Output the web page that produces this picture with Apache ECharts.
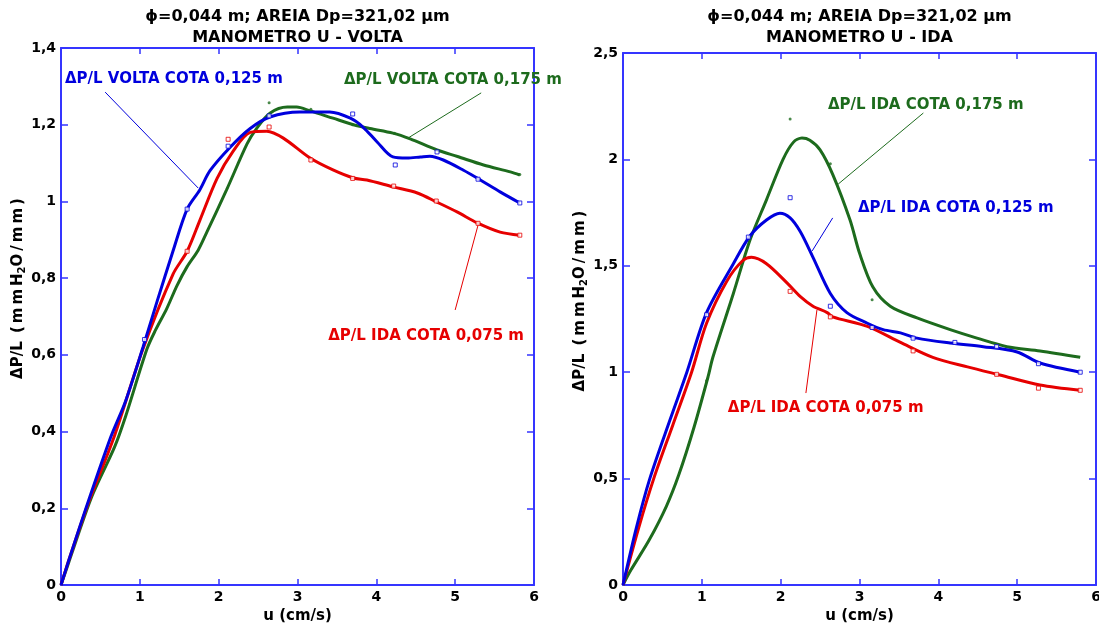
<!DOCTYPE html>
<html>
<head>
<meta charset="utf-8">
<script src="https://cdn.jsdelivr.net/npm/echarts@6/dist/echarts.min.js"></script>
<style>
html,body{margin:0;padding:0;background:#fff;}
#c{width:1099px;height:623px;}
</style>
</head>
<body>
<div id="c"></div>
<script>
// ---------- DATA ----------
const titleLine1 = 'ϕ=0,044 m; AREIA Dp=321,02 μm';
const titleLeft2 = 'MANOMETRO U - VOLTA';
const titleRight2 = 'MANOMETRO U - IDA';
const xAxisName = 'u (cm/s)';

// Left chart (VOLTA)
const lBlueX = [0,0.1,0.3,0.63,0.82,1.04,1.22,1.42,1.6,1.76,1.89,2.14,2.4,2.65,3.03,3.41,3.67,3.83,4.01,4.21,4.39,4.56,4.68,4.85,5.1,5.32,5.57,5.82];
const lBlueY = [0,0.065,0.19,0.385,0.48,0.62,0.74,0.87,0.98,1.03,1.08,1.14,1.19,1.22,1.233,1.233,1.217,1.194,1.155,1.116,1.113,1.116,1.118,1.108,1.082,1.056,1.025,0.996];
const lRedX = [0,0.1,0.34,0.68,1.03,1.42,1.6,1.76,1.98,2.18,2.4,2.61,2.82,3.16,3.45,3.71,3.88,4.21,4.52,4.77,5.03,5.28,5.57,5.82];
const lRedY = [0,0.065,0.21,0.39,0.61,0.81,0.87,0.95,1.06,1.13,1.18,1.183,1.165,1.113,1.082,1.061,1.056,1.038,1.022,0.998,0.972,0.944,0.92,0.912];
const lGreenX = [0,0.1,0.39,0.68,0.82,1.09,1.2,1.34,1.47,1.6,1.74,1.85,2.1,2.36,2.48,2.65,2.87,2.99,3.16,3.45,3.71,3.92,4.21,4.43,4.77,5.03,5.36,5.7,5.82];
const lGreenY = [0,0.06,0.23,0.36,0.44,0.615,0.665,0.72,0.78,0.83,0.873,0.92,1.03,1.15,1.19,1.23,1.246,1.246,1.236,1.217,1.2,1.19,1.178,1.163,1.134,1.117,1.095,1.077,1.069];
const lBlueMkX = [1.06,1.6,2.12,2.64,3.7,4.24,4.77,5.29,5.82];
const lBlueMkY = [0.64,0.98,1.144,1.223,1.228,1.095,1.129,1.058,0.996];
const lRedMkX = [1.6,2.12,2.64,3.17,3.7,4.22,4.76,5.29,5.82];
const lRedMkY = [0.87,1.162,1.194,1.108,1.06,1.04,1.001,0.943,0.912];
const lGreenMkX = [2.64,3.17,3.7,4.23,5.82];
const lGreenMkY = [1.257,1.24,1.2,1.178,1.07];

// Right chart (IDA)
const rBlueX = [0,0.17,0.34,0.6,0.81,1.06,1.4,1.61,1.82,1.99,2.12,2.25,2.41,2.63,2.84,3.1,3.3,3.52,3.73,4.15,4.57,5.0,5.29,5.8];
const rBlueY = [0,0.27,0.5,0.78,1.0,1.28,1.51,1.64,1.715,1.747,1.725,1.66,1.54,1.37,1.28,1.23,1.2,1.185,1.16,1.137,1.12,1.095,1.043,1.0];
const rRedX = [0,0.2,0.39,0.63,0.87,1.06,1.32,1.52,1.63,1.82,2.08,2.25,2.41,2.59,2.66,3.1,3.52,3.93,4.37,4.78,5.29,5.8];
const rRedY = [0,0.27,0.5,0.75,1.0,1.23,1.43,1.525,1.54,1.51,1.42,1.355,1.31,1.28,1.26,1.215,1.14,1.07,1.025,0.987,0.94,0.915];
const rGreenX = [0,0.1,0.33,0.55,0.71,0.9,1.08,1.14,1.4,1.61,1.82,2.03,2.16,2.27,2.37,2.5,2.66,2.88,3.0,3.17,3.39,3.73,4.15,4.49,4.87,5.29,5.8];
const rGreenY = [0,0.07,0.21,0.37,0.52,0.74,0.98,1.07,1.37,1.62,1.81,2.0,2.08,2.1,2.09,2.045,1.93,1.715,1.56,1.4,1.31,1.255,1.2,1.16,1.12,1.1,1.07];
const rBlueMkX = [1.06,1.59,2.12,2.63,3.16,3.68,4.21,4.74,5.27,5.8];
const rBlueMkY = [1.27,1.635,1.82,1.31,1.21,1.16,1.14,1.12,1.04,1.0];
const rRedMkX = [2.12,2.63,3.68,4.74,5.27,5.8];
const rRedMkY = [1.38,1.26,1.1,0.99,0.925,0.915];
const rGreenMkX = [1.06,2.12,2.63,3.16];
const rGreenMkY = [0.96,2.19,1.98,1.34];

// Annotation texts with anchor points in data units
const annTexts = ['ΔP/L VOLTA COTA 0,125 m','ΔP/L VOLTA COTA 0,175 m','ΔP/L IDA COTA 0,075 m',
                  'ΔP/L IDA COTA 0,175 m','ΔP/L IDA COTA 0,125 m','ΔP/L IDA COTA 0,075 m'];
const annGrid = [0,0,0,1,1,1];
const annTextAt = [[0.05,1.319],[3.59,1.316],[3.39,0.649],[2.60,2.256],[2.98,1.772],[1.33,0.832]];
const annLineFrom = [[0.56,1.285],[5.33,1.283],[5.0,0.717],[3.81,2.218],[2.66,1.725],[2.32,0.902]];
const annLineTo = [[1.74,1.035],[4.40,1.165],[5.29,0.938],[2.73,1.884],[2.40,1.57],[2.46,1.292]];

// ---------- STYLE ----------
const BLUE = '#0000dd', RED = '#e60000', GREEN = '#1d6b1d', AXIS = '#3535ff';
const annColors = [BLUE, GREEN, RED, GREEN, BLUE, RED];
const FONT = '"DejaVu Sans", "Liberation Sans", sans-serif';
const TS = '\u2009';
const zip = (a,b) => a.map((v,i)=>[v,b[i]]);
const fmt = v => String(Math.round(v*100)/100).replace('.', ',');
const yName = '{a|ΔP/L' + TS + ' (' + TS + 'm' + TS + 'm' + TS + 'H}{s|2}{a|O' + TS + '/' + TS + 'm' + TS + 'm' + TS + ')}';

const chart = echarts.init(document.getElementById('c'), null, {renderer:'canvas'});

function xAxes(grid){
  return [
    {type:'value', gridIndex:grid, min:0, max:6, interval:1, position:'bottom',
     axisLine:{onZero:false, lineStyle:{color:AXIS,width:2}},
     axisTick:{inside:true,length:6,lineStyle:{color:AXIS,width:1.5}},
     axisLabel:{color:'#000',fontWeight:'bold',fontSize:14,fontFamily:FONT,margin:5,formatter:fmt},
     splitLine:{show:false},
     name:xAxisName, nameLocation:'middle', nameGap:18,
     nameTextStyle:{color:'#000',fontWeight:'bold',fontSize:15,fontFamily:FONT}},
    {type:'value', gridIndex:grid, min:0, max:6, interval:1, position:'top',
     axisLine:{onZero:false, lineStyle:{color:AXIS,width:2}},
     axisTick:{inside:true,length:6,lineStyle:{color:AXIS,width:1.5}},
     axisLabel:{show:false}, splitLine:{show:false}}
  ];
}
function yAxes(grid, max, interval, pad){
  return [
    {type:'value', gridIndex:grid, min:0, max:max, interval:interval, position:'left',
     axisLine:{onZero:false, lineStyle:{color:AXIS,width:2}},
     axisTick:{inside:true,length:7,lineStyle:{color:AXIS,width:1.5}},
     axisLabel:{color:'#000',fontWeight:'bold',fontSize:14,fontFamily:FONT,margin:5,formatter:fmt},
     splitLine:{show:false},
     name:yName, nameLocation:'middle', nameGap:31, nameRotate:90,
     nameTextStyle:{padding:[0,0,0,pad],
       rich:{a:{color:'#000',fontWeight:'bold',fontSize:15,fontFamily:FONT},
             s:{color:'#000',fontWeight:'bold',fontSize:10,fontFamily:FONT,padding:[8,0,0,0]}}}},
    {type:'value', gridIndex:grid, min:0, max:max, interval:interval, position:'right',
     axisLine:{onZero:false, lineStyle:{color:AXIS,width:2}},
     axisTick:{inside:true,length:7,lineStyle:{color:AXIS,width:1.5}},
     axisLabel:{show:false}, splitLine:{show:false}}
  ];
}
function lineSeries(xi, yi, x, y, color){
  return {type:'line', xAxisIndex:xi, yAxisIndex:yi, data:zip(x,y), smooth:0.3,
    showSymbol:false, symbol:'none', lineStyle:{color:color,width:3}, silent:true, z:3};
}
function markSeries(xi, yi, x, y, color, sym){
  return {type:'scatter', xAxisIndex:xi, yAxisIndex:yi, data:zip(x,y),
    symbol: sym==='dot' ? 'circle' : 'rect', symbolSize: sym==='dot' ? 3 : 4,
    itemStyle: sym==='dot' ? {color:color} : {color:'#fff', borderColor:color, borderWidth:1},
    silent:true, z:4};
}

chart.setOption({
  animation:false,
  backgroundColor:'#fff',
  grid:[
    {left:61, right:565, top:48, bottom:38, outerBoundsMode:'none', containLabel:false},
    {left:623, right:3, top:53, bottom:38, outerBoundsMode:'none', containLabel:false}
  ],
  xAxis:[...xAxes(0), ...xAxes(1)],
  yAxis:[...yAxes(0,1.4,0.2,56), ...yAxes(1,2.5,0.5,36)],
  series:[
    lineSeries(0,0,lGreenX,lGreenY,GREEN),
    lineSeries(0,0,lRedX,lRedY,RED),
    lineSeries(0,0,lBlueX,lBlueY,BLUE),
    markSeries(0,0,lBlueMkX,lBlueMkY,BLUE,'sq'),
    markSeries(0,0,lRedMkX,lRedMkY,RED,'sq'),
    markSeries(0,0,lGreenMkX,lGreenMkY,GREEN,'dot'),
    lineSeries(2,2,rGreenX,rGreenY,GREEN),
    lineSeries(2,2,rRedX,rRedY,RED),
    lineSeries(2,2,rBlueX,rBlueY,BLUE),
    markSeries(2,2,rBlueMkX,rBlueMkY,BLUE,'sq'),
    markSeries(2,2,rRedMkX,rRedMkY,RED,'sq'),
    markSeries(2,2,rGreenMkX,rGreenMkY,GREEN,'dot')
  ]
});

// Titles and annotations positioned through the library's coordinate conversion
const graphics = [];
function gridCenterX(g){
  const a = chart.convertToPixel({gridIndex:g},[0,0]);
  const b = chart.convertToPixel({gridIndex:g},[6,0]);
  return (a[0]+b[0])/2;
}
[[0,titleLeft2],[1,titleRight2]].forEach(([g,t2])=>{
  const cx = gridCenterX(g);
  graphics.push({type:'text', x:cx, y:17, style:{text:titleLine1, fill:'#000', font:'bold 16px '+FONT, textAlign:'center', textVerticalAlign:'middle'}});
  graphics.push({type:'text', x:cx, y:38, style:{text:t2, fill:'#000', font:'bold 16px '+FONT, textAlign:'center', textVerticalAlign:'middle'}});
});
annTexts.forEach((t,i)=>{
  const g = annGrid[i];
  const p = chart.convertToPixel({gridIndex:g}, annTextAt[i]);
  const p1 = chart.convertToPixel({gridIndex:g}, annLineFrom[i]);
  const p2 = chart.convertToPixel({gridIndex:g}, annLineTo[i]);
  graphics.push({type:'line', shape:{x1:p1[0],y1:p1[1],x2:p2[0],y2:p2[1]}, style:{stroke:annColors[i], lineWidth:1}, z:10});
  graphics.push({type:'text', x:p[0], y:p[1], style:{text:t, fill:annColors[i], font:'bold 15px '+FONT, textAlign:'left', textVerticalAlign:'middle'}, z:10});
});
chart.setOption({graphic:graphics});
</script>
</body>
</html>
